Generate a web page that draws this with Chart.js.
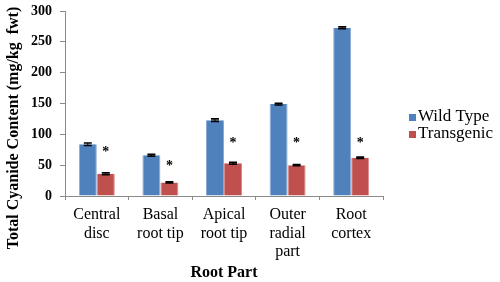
<!DOCTYPE html>
<html><head><meta charset="utf-8">
<script src="https://cdn.jsdelivr.net/npm/chart.js@4/dist/chart.umd.min.js"></script>
<style>html,body{margin:0;padding:0;background:#fff;}</style>
</head><body>
<canvas id="c" width="500" height="282"></canvas>
<script>
const categories = [["Central", "disc"], ["Basal", "root tip"], ["Apical", "root tip"], ["Outer", "radial", "part"], ["Root", "cortex"]];
const seriesNames = ["Wild Type", "Transgenic"];
const wildType = [84, 66, 123, 149, 273];
const transgenic = [36, 22, 53, 50, 62];
const wildTypeErr = [2, 1.5, 2, 1.5, 1.5];
const transgenicErr = [1.5, 1, 1.5, 1, 1];
const asteriskLevels = [76, 53, 91, 91, 91];
const yMin = 0, yMax = 300, yStep = 50;
const yTitle = "Total Cyanide Content (mg/kg  fwt)";
const xTitle = "Root Part";

const SERIF = '"Liberation Serif", "Times New Roman", serif';
const blue = '#4F81BD', red = '#C0504D';
const axisColor = '#8a8a8a';

const errorBars = {
  id: 'errorBars',
  afterDatasetsDraw(chart) {
    const ctx = chart.ctx, y = chart.scales.y;
    ctx.save();
    ctx.strokeStyle = '#000';
    chart.data.datasets.forEach((ds, i) => {
      const meta = chart.getDatasetMeta(i);
      meta.data.forEach((bar, j) => {
        const v = ds.data[j], e = ds.errors[j];
        const yt = y.getPixelForValue(v + e), yb = y.getPixelForValue(v - e);
        ctx.lineWidth = 1;
        ctx.beginPath(); ctx.moveTo(bar.x, yt); ctx.lineTo(bar.x, yb); ctx.stroke();
        ctx.lineWidth = 1.6;
        ctx.beginPath();
        ctx.moveTo(bar.x - 4, yt); ctx.lineTo(bar.x + 4, yt);
        ctx.moveTo(bar.x - 4, yb); ctx.lineTo(bar.x + 4, yb);
        ctx.stroke();
      });
    });
    const meta = chart.getDatasetMeta(1);
    ctx.fillStyle = '#000';
    ctx.font = 'bold 14px ' + SERIF;
    ctx.textAlign = 'center';
    ctx.textBaseline = 'alphabetic';
    meta.data.forEach((bar, j) => {
      ctx.fillText('*', bar.x, y.getPixelForValue(asteriskLevels[j]) + 7);
    });
    ctx.restore();
  }
};

const sideTexts = {
  id: 'sideTexts',
  afterDraw(chart) {
    const ctx = chart.ctx, area = chart.chartArea;
    ctx.save();
    ctx.translate(18, (chart.height - 26) / 2);
    ctx.rotate(-Math.PI / 2);
    ctx.fillStyle = '#000';
    ctx.font = 'bold 16px ' + SERIF;
    ctx.textAlign = 'center';
    ctx.textBaseline = 'alphabetic';
    ctx.fillText(yTitle, 0, 0);
    ctx.restore();
    ctx.save();
    ctx.font = '17px ' + SERIF;
    ctx.textAlign = 'left';
    ctx.textBaseline = 'alphabetic';
    const x0 = area.right + 26;
    chart.data.datasets.forEach((ds, i) => {
      const base = 121 + i * 17;
      ctx.fillStyle = ds.backgroundColor;
      ctx.fillRect(x0, base - 7, 7, 7);
      ctx.fillStyle = '#000';
      ctx.fillText(ds.label, x0 + 9, base);
    });
    ctx.restore();
  }
};

new Chart(document.getElementById('c'), {
  type: 'bar',
  data: {
    labels: categories,
    datasets: [
      { label: seriesNames[0], data: wildType, errors: wildTypeErr, backgroundColor: blue, borderColor: '#8AA9D6', borderWidth: {left: 1, right: 1, top: 0, bottom: 0} },
      { label: seriesNames[1], data: transgenic, errors: transgenicErr, backgroundColor: red, borderColor: '#D88A88', borderWidth: {left: 1, right: 1, top: 0, bottom: 0} }
    ]
  },
  options: {
    responsive: false,
    animation: false,
    layout: { padding: { top: 11, right: 117, left: 0, bottom: 0 } },
    datasets: { bar: { categoryPercentage: 0.566, barPercentage: 1 } },
    plugins: { legend: { display: false }, tooltip: { enabled: false } },
    scales: {
      x: {
        grid: { drawOnChartArea: false, offset: true, color: axisColor, tickLength: 4, tickWidth: 1 },
        border: { color: axisColor, width: 1 },
        ticks: { color: '#000', padding: 6, maxRotation: 0, autoSkip: false, font: { family: SERIF, size: 16, lineHeight: 1.15 } },
        title: { display: true, text: xTitle, color: '#000', padding: { top: 0, bottom: 0 }, font: { family: SERIF, size: 16, weight: 'bold', lineHeight: 1.2 } },
        afterFit(scale) { scale.height = 86; }
      },
      y: {
        min: yMin, max: yMax,
        grid: { drawOnChartArea: false, color: axisColor, tickLength: 5 },
        border: { color: axisColor, width: 1 },
        ticks: { stepSize: yStep, color: '#000', padding: 8, font: { family: SERIF, size: 14, weight: 'bold' } },
        afterFit(scale) { scale.width = 65; scale.paddingTop = 0; scale.paddingBottom = 0; }
      }
    }
  },
  plugins: [errorBars, sideTexts]
});
</script>
</body></html>
